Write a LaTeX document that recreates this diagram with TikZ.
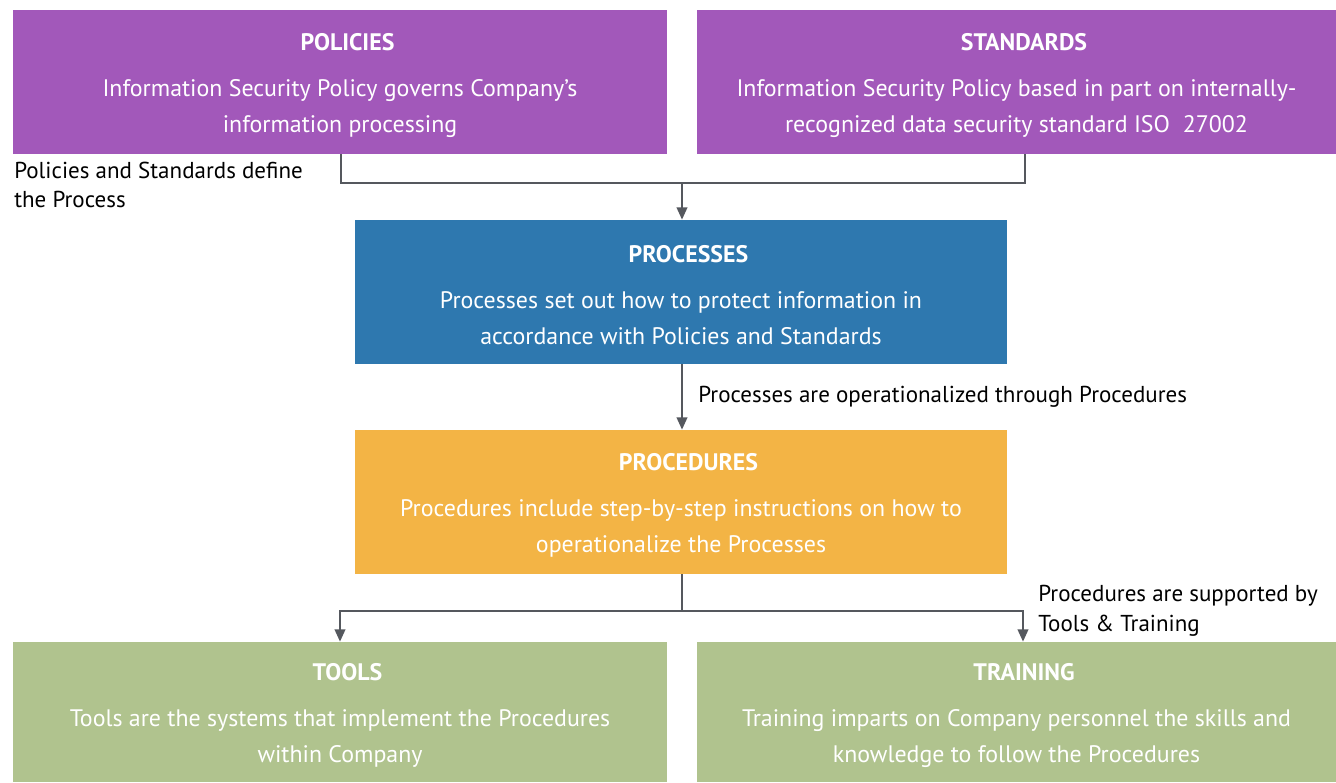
\documentclass[tikz,border=0pt]{standalone}
\usepackage{fontspec}
\setmainfont{PT Sans}
\usetikzlibrary{arrows.meta}

\definecolor{polpurple}{RGB}{162,88,186}
\definecolor{problue}{RGB}{46,120,175}
\definecolor{procorange}{RGB}{243,180,69}
\definecolor{toolgreen}{RGB}{176,195,142}
\definecolor{linegray}{RGB}{85,88,94}

\newcommand{\boxtitle}[1]{\rule{0pt}{13.5pt}\hspace*{0.3cm}\textbf{#1}}

\tikzset{
  box/.style={rectangle, minimum height=2.88cm, text=white, align=center,
    font=\fontsize{13.6}{20.4}\selectfont, inner sep=0pt},
  conn/.style={draw=linegray, line width=1.2pt},
  note/.style={font=\fontsize{13.1}{17}\selectfont, align=left, anchor=west, inner sep=0pt}
}

\begin{document}
\begin{tikzpicture}[x=0.02cm, y=-0.02cm]
  \useasboundingbox (0,0) rectangle (1336,782);

  \node[box, fill=polpurple, minimum width=13.08cm] (pol) at (340,82)
    {\boxtitle{POLICIES}\\[6pt] Information Security Policy governs Company's\\ information processing};
  \node[box, fill=polpurple, minimum width=12.78cm] (std) at (1016.5,82)
    {\boxtitle{STANDARDS}\\[6pt] Information Security Policy based in part on internally-\\ recognized data security standard ISO~ 27002};

  \node[box, fill=problue, minimum width=13.04cm] (proc) at (681,292)
    {\boxtitle{PROCESSES}\\[6pt] Processes set out how to protect information in\\ accordance with Policies and Standards};

  \node[box, fill=procorange, minimum width=13.04cm] (pcd) at (681,502)
    {\boxtitle{PROCEDURES}\\[6pt] Procedures include step-by-step instructions on how to\\ operationalize the Processes};

  \node[box, fill=toolgreen, minimum width=13.08cm, minimum height=2.8cm] (tool) at (340,712)
    {\boxtitle{TOOLS}\\[6pt] Tools are the systems that implement the Procedures\\ within Company};
  \node[box, fill=toolgreen, minimum width=12.78cm, minimum height=2.8cm] (train) at (1016.5,712)
    {\boxtitle{TRAINING}\\[6pt] Training imparts on Company personnel the skills and\\ knowledge to follow the Procedures};

  % connectors
  \coordinate (j1) at (682,183);
  \coordinate (j2) at (682,611);
  \draw[conn] ([xshift=0.02cm]pol.south) |- (j1) -| ([xshift=0.17cm]std.south);
  \draw[conn, -{Triangle[length=7pt,width=6pt]}] (j1) -- (j1 |- proc.north);
  \draw[conn, -{Triangle[length=7pt,width=6pt]}] (proc.south -| j1) -- (pcd.north -| j1);
  \draw[conn] (pcd.south -| j2) -- (j2);
  \draw[conn, -{Triangle[length=7pt,width=6pt]}] (j2) -| (tool.north);
  \draw[conn, -{Triangle[length=7pt,width=6pt]}] (j2) -| ([xshift=0.13cm]train.north);

  % notes
  \node[note] (n1) at (14,185) {Policies and Standards define\\ the Process};
  \node[note] (n2) at (698,397) {Processes are operationalized through Procedures};
  \node[note] (n3) at (1038,611) {Procedures are supported by\\ Tools \& Training};
\end{tikzpicture}
\end{document}
